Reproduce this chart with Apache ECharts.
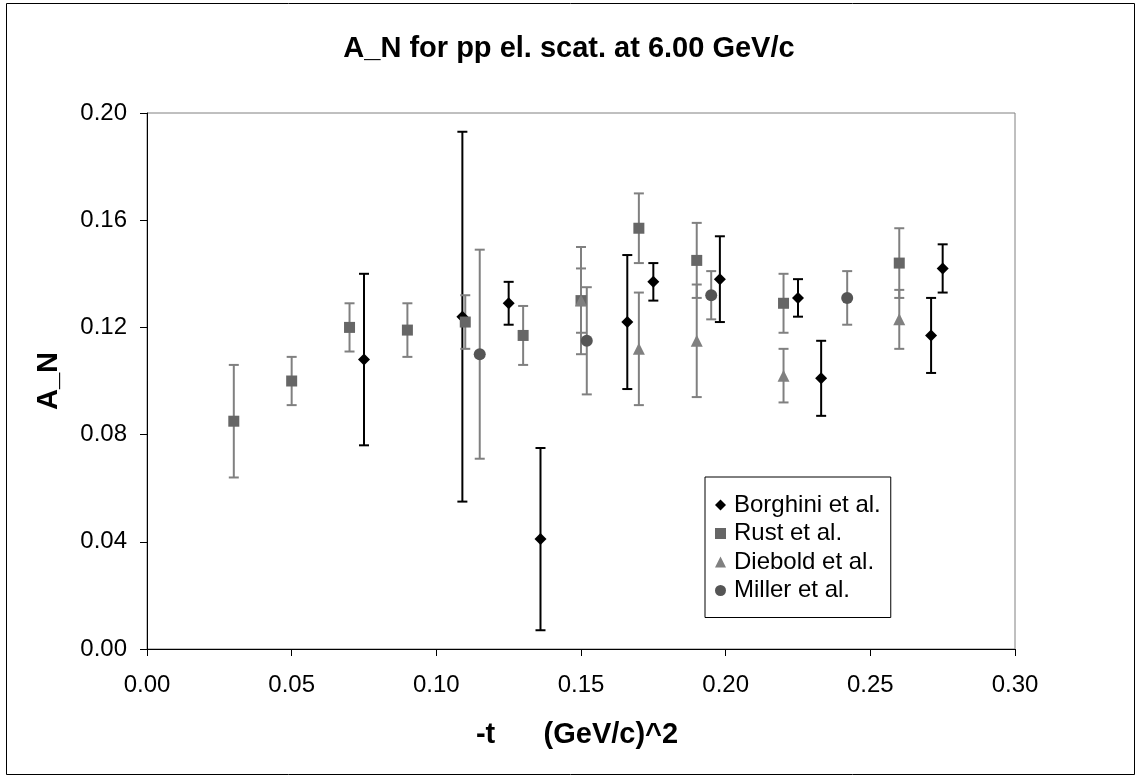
<!DOCTYPE html>
<html>
<head>
<meta charset="utf-8">
<script src="https://cdn.jsdelivr.net/npm/echarts@6/dist/echarts.min.js"></script>
<style>html,body{margin:0;padding:0;background:#fff;}#c{width:1138px;height:776px;}</style>
</head>
<body>
<div id="c"></div>
<script>
// ---- data ----
const borghiniX   = [0.075, 0.109, 0.125, 0.136, 0.166, 0.175, 0.198, 0.225, 0.233, 0.271, 0.275];
const borghiniY   = [0.108, 0.124, 0.129, 0.041, 0.122, 0.137, 0.138, 0.131, 0.101, 0.117, 0.142];
const borghiniErr = [0.032, 0.069, 0.008, 0.034, 0.025, 0.007, 0.016, 0.007, 0.014, 0.014, 0.009];

const rustX   = [0.03, 0.05, 0.07, 0.09, 0.11, 0.13, 0.15, 0.17, 0.19, 0.22, 0.26];
const rustY   = [0.085, 0.100, 0.120, 0.119, 0.122, 0.117, 0.130, 0.157, 0.145, 0.129, 0.144];
const rustErr = [0.021, 0.009, 0.009, 0.010, 0.010, 0.011, 0.020, 0.013, 0.014, 0.011, 0.013];

const dieboldX   = [0.15, 0.17, 0.19, 0.22, 0.26];
const dieboldY   = [0.130, 0.112, 0.115, 0.102, 0.123];
const dieboldErr = [0.012, 0.021, 0.021, 0.010, 0.011];

const millerX   = [0.115, 0.152, 0.195, 0.242];
const millerY   = [0.110, 0.115, 0.132, 0.131];
const millerErr = [0.039, 0.020, 0.009, 0.010];

const seriesNames = ['Borghini et al.', 'Rust et al.', 'Diebold et al.', 'Miller et al.'];
const xTicks = [0.00, 0.05, 0.10, 0.15, 0.20, 0.25, 0.30];
const yTicks = [0.00, 0.04, 0.08, 0.12, 0.16, 0.20];

const FONT = "'Liberation Sans', Arial, sans-serif";

function pts(xs, ys) { return xs.map((x, i) => [x, ys[i]]); }
function errs(xs, ys, es) { return xs.map((x, i) => [x, ys[i] - es[i], ys[i] + es[i]]); }

function errorSeries(name, data, color, width) {
  return {
    type: 'custom',
    name: name,
    data: data,
    z: 2,
    silent: true,
    renderItem: function (params, api) {
      const x = api.value(0);
      const lo = api.coord([x, api.value(1)]);
      const hi = api.coord([x, api.value(2)]);
      const hw = 5;
      const st = { stroke: color, lineWidth: width };
      return {
        type: 'group',
        children: [
          { type: 'line', shape: { x1: lo[0], y1: lo[1], x2: hi[0], y2: hi[1] }, style: st },
          { type: 'line', shape: { x1: lo[0] - hw, y1: lo[1], x2: lo[0] + hw, y2: lo[1] }, style: st },
          { type: 'line', shape: { x1: hi[0] - hw, y1: hi[1], x2: hi[0] + hw, y2: hi[1] }, style: st }
        ]
      };
    }
  };
}

const chart = echarts.init(document.getElementById('c'), null, { renderer: 'canvas' });

const option = {
  backgroundColor: '#fff',
  animation: false,
  title: {
    text: 'A_N for pp el. scat. at 6.00 GeV/c',
    left: 'center',
    top: 29,
    textStyle: { fontFamily: FONT, fontSize: 29, fontWeight: 'bold', color: '#000' }
  },
  grid: {
    left: 147, right: 123, top: 113, bottom: 127,
    show: true, borderColor: '#808080', borderWidth: 1, backgroundColor: '#fff'
  },
  legend: {
    orient: 'vertical',
    left: 705, top: 477,
    padding: [16, 10, 15, 10],
    itemGap: 4.5,
    itemWidth: 11, itemHeight: 11,
    borderColor: '#000', borderWidth: 1,
    backgroundColor: '#fff',
    textStyle: { fontFamily: FONT, fontSize: 24, color: '#000', padding: [0, 0, 0, 3] },
    data: [
      { name: seriesNames[0], icon: 'diamond' },
      { name: seriesNames[1], icon: 'rect' },
      { name: seriesNames[2], icon: 'triangle' },
      { name: seriesNames[3], icon: 'circle' }
    ]
  },
  xAxis: {
    type: 'value', min: 0, max: 0.3, interval: 0.05,
    axisLine: { show: true, onZero: false, lineStyle: { color: '#000', width: 1 } },
    axisTick: { show: true, inside: false, length: 7, lineStyle: { color: '#000' } },
    splitLine: { show: false },
    axisLabel: {
      margin: 24, fontFamily: FONT, fontSize: 24, color: '#000',
      formatter: v => { const t = xTicks.find(k => Math.abs(k - v) < 1e-9); return (t !== undefined ? t : v).toFixed(2); }
    }
  },
  yAxis: {
    type: 'value', min: 0, max: 0.2, interval: 0.04,
    axisLine: { show: true, onZero: false, lineStyle: { color: '#000', width: 1 } },
    axisTick: { show: true, inside: false, length: 7, lineStyle: { color: '#000' } },
    splitLine: { show: false },
    axisLabel: {
      margin: 20, fontFamily: FONT, fontSize: 24, color: '#000',
      formatter: v => { const t = yTicks.find(k => Math.abs(k - v) < 1e-9); return (t !== undefined ? t : v).toFixed(2); }
    }
  },
  graphic: [
    { type: 'rect', shape: { x: 6.5, y: 3.5, width: 1128, height: 771 }, style: { fill: 'none', stroke: '#000', lineWidth: 1 }, z: 100, silent: true },
    { type: 'text', x: 49, y: 381, rotation: Math.PI / 2,
      style: { text: 'A_N', font: "bold 29px 'Liberation Sans', Arial, sans-serif", fill: '#000', textAlign: 'center', textVerticalAlign: 'middle' } },
    { type: 'text', x: 577, y: 735,
      style: { text: '-t      (GeV/c)^2', font: "bold 29px 'Liberation Sans', Arial, sans-serif", fill: '#000', textAlign: 'center', textVerticalAlign: 'middle' } }
  ],
  series: [
    errorSeries('Borghini err', errs(borghiniX, borghiniY, borghiniErr), '#000', 2),
    errorSeries('Rust err', errs(rustX, rustY, rustErr), '#808080', 2),
    errorSeries('Diebold err', errs(dieboldX, dieboldY, dieboldErr), '#808080', 2),
    errorSeries('Miller err', errs(millerX, millerY, millerErr), '#808080', 2),
    { type: 'scatter', name: seriesNames[0], data: pts(borghiniX, borghiniY), symbol: 'diamond', symbolSize: 12, z: 5,
      itemStyle: { color: '#000', opacity: 1 } },
    { type: 'scatter', name: seriesNames[1], data: pts(rustX, rustY), symbol: 'rect', symbolSize: 11, z: 5,
      itemStyle: { color: '#666666', opacity: 1 } },
    { type: 'scatter', name: seriesNames[2], data: pts(dieboldX, dieboldY), symbol: 'triangle', symbolSize: 12, z: 5,
      itemStyle: { color: '#808080', opacity: 1 } },
    { type: 'scatter', name: seriesNames[3], data: pts(millerX, millerY), symbol: 'circle', symbolSize: 12, z: 5,
      itemStyle: { color: '#555555', opacity: 1 } }
  ]
};
chart.setOption(option);
</script>
</body>
</html>
